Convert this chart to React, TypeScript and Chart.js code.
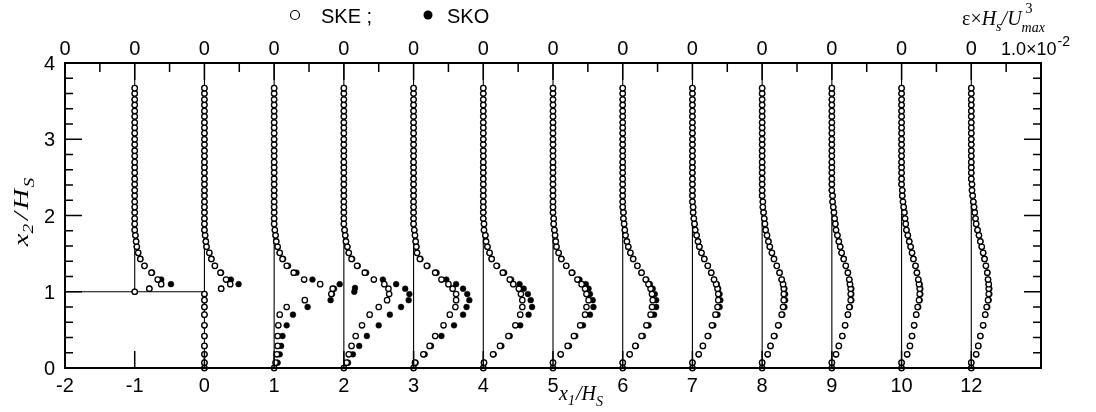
import { useEffect, useRef } from 'react';
import { Chart, registerables } from 'chart.js';

Chart.register(...registerables);

const W = 1096;
const H = 412;

// Stations x1/Hs (label) and the slot they occupy on the horizontal axis
const STATION_LABELS = ['-1', '0', '1', '2', '3', '4', '5', '6', '7', '8', '9', '10', '12'];
const STATION_SLOT = [-1, 0, 1, 2, 3, 4, 5, 6, 7, 8, 9, 10, 11];
const STEP_HEIGHT = 1;

// Axis ticks
const X_TICK_SLOTS = [-2, -1, 0, 1, 2, 3, 4, 5, 6, 7, 8, 9, 10, 11, 12];
const X_TICK_LABELS = ['-2', '-1', '0', '1', '2', '3', '4', '5', '6', '7', '8', '9', '10', '12', ''];
const TOP_TICK_LABELS = ['0', '0', '0', '0', '0', '0', '0', '0', '0', '0', '0', '0', '0', '0', '1.0×10'];
const TOP_MINOR_SLOTS = [-1.5, -0.5, 0.5, 1.5, 2.5, 3.5, 4.5, 5.5, 6.5, 7.5, 8.5, 9.5, 10.5, 11.5];
const Y_TICKS = [0, 1, 2, 3, 4];
const Y_TICK_LABELS = ['0', '1', '2', '3', '4'];
const Y_MINOR = [0.2, 0.4, 0.6, 0.8, 1.2, 1.4, 1.6, 1.8, 2.2, 2.4, 2.6, 2.8, 3.2, 3.4, 3.6, 3.8];

// Measurement heights x2/Hs
const Y_GRID = [
  0, 0.07, 0.18, 0.29, 0.42, 0.56, 0.70, 0.80, 0.89, 0.97, 1.04, 1.10, 1.16, 1.25, 1.34, 1.43, 1.51,
  1.59, 1.66, 1.74, 1.81, 1.89, 1.96, 2.04, 2.11, 2.18, 2.26, 2.33, 2.41, 2.48, 2.56, 2.63, 2.70,
  2.78, 2.85, 2.93, 3.00, 3.08, 3.15, 3.22, 3.30, 3.37, 3.45, 3.52, 3.60, 3.67,
];
// Station -1 lies on top of the step
const Y_STEP = [
  1.00, 1.04, 1.10, 1.16, 1.25, 1.34, 1.43, 1.51,
  1.59, 1.66, 1.74, 1.81, 1.89, 1.96, 2.04, 2.11, 2.18, 2.26, 2.33, 2.41, 2.48, 2.56, 2.63, 2.70,
  2.78, 2.85, 2.93, 3.00, 3.08, 3.15, 3.22, 3.30, 3.37, 3.45, 3.52, 3.60, 3.67,
];

// Dissipation eps*Hs/Umax^3, in units of 1.0e-2 (one station spacing)
const SKE_M1 = [0, 0.21, 0.38, 0.33, 0.24, 0.14, 0.08, 0.05,
  0.03, 0.02, 0.01, 0, 0, 0, 0, 0, 0, 0, 0, 0, 0, 0, 0, 0, 0, 0, 0, 0, 0, 0, 0, 0, 0, 0, 0, 0, 0];
const SKO_M1 = [0, 0.21, 0.52, 0.38, 0.25, 0.14, 0.08, 0.05,
  0.03, 0.02, 0.01, 0, 0, 0, 0, 0, 0, 0, 0, 0, 0, 0, 0, 0, 0, 0, 0, 0, 0, 0, 0, 0, 0, 0, 0, 0, 0];

const SKE_0 = [0, 0, 0, 0, 0, 0, 0, 0, 0, 0, 0.24, 0.37, 0.31, 0.23, 0.15, 0.10, 0.07,
  0.03, 0.02, 0.01, 0, 0, 0, 0, 0, 0, 0, 0, 0, 0, 0, 0, 0, 0, 0, 0, 0, 0, 0, 0, 0, 0, 0, 0, 0, 0];
const SKO_0 = [0, 0, 0, 0, 0, 0, 0, 0, 0, 0, 0.24, 0.49, 0.38, 0.24, 0.15, 0.10, 0.07,
  0.03, 0.02, 0.01, 0, 0, 0, 0, 0, 0, 0, 0, 0, 0, 0, 0, 0, 0, 0, 0, 0, 0, 0, 0, 0, 0, 0, 0, 0, 0];

const SKE_1 = [0, 0.02, 0.04, 0.05, 0.05, 0.06, 0.08, 0.18, 0.44, 0.82, 0.84, 0.66, 0.43, 0.28, 0.18, 0.12, 0.08,
  0.05, 0.03, 0.02, 0.01, 0, 0, 0, 0, 0, 0, 0, 0, 0, 0, 0, 0, 0, 0, 0, 0, 0, 0, 0, 0, 0, 0, 0, 0, 0];
const SKO_1 = [0, 0.05, 0.08, 0.10, 0.12, 0.18, 0.27, 0.48, 0.81, 0.83, 0.86, 0.94, 0.55, 0.32, 0.20, 0.13, 0.08,
  0.05, 0.03, 0.02, 0.01, 0, 0, 0, 0, 0, 0, 0, 0, 0, 0, 0, 0, 0, 0, 0, 0, 0, 0, 0, 0, 0, 0, 0, 0, 0];

const SKE_2 = [0, 0.04, 0.07, 0.11, 0.17, 0.26, 0.37, 0.50, 0.62, 0.65, 0.64, 0.58, 0.43, 0.30, 0.19, 0.11, 0.07,
  0.05, 0.03, 0.02, 0.01, 0, 0, 0, 0, 0, 0, 0, 0, 0, 0, 0, 0, 0, 0, 0, 0, 0, 0, 0, 0, 0, 0, 0, 0, 0];
const SKO_2 = [0, 0.06, 0.13, 0.22, 0.33, 0.50, 0.66, 0.82, 0.93, 0.94, 0.88, 0.75, 0.56, 0.32, 0.20, 0.12, 0.07,
  0.05, 0.03, 0.02, 0.01, 0, 0, 0, 0, 0, 0, 0, 0, 0, 0, 0, 0, 0, 0, 0, 0, 0, 0, 0, 0, 0, 0, 0, 0, 0];
// two isolated SKO points near the step corner height at station 2
const SKO_2_EXTRA_Y = [1.00, 1.05];
const SKO_2_EXTRA = [0.15, 0.16];

const SKE_3 = [0, 0.02, 0.14, 0.23, 0.31, 0.43, 0.52, 0.60, 0.61, 0.61, 0.56, 0.50, 0.40, 0.31, 0.19, 0.09, 0.05,
  0.04, 0.03, 0.02, 0.01, 0, 0, 0, 0, 0, 0, 0, 0, 0, 0, 0, 0, 0, 0, 0, 0, 0, 0, 0, 0, 0, 0, 0, 0, 0];
const SKO_3 = [0, 0.03, 0.16, 0.25, 0.40, 0.58, 0.71, 0.76, 0.80, 0.77, 0.71, 0.61, 0.47, 0.33, 0.20, 0.10, 0.05,
  0.04, 0.03, 0.02, 0.01, 0, 0, 0, 0, 0, 0, 0, 0, 0, 0, 0, 0, 0, 0, 0, 0, 0, 0, 0, 0, 0, 0, 0, 0, 0];

const SKE_4 = [0, 0.01, 0.14, 0.24, 0.36, 0.46, 0.53, 0.56, 0.56, 0.54, 0.51, 0.43, 0.38, 0.28, 0.19, 0.12, 0.09,
  0.06, 0.04, 0.03, 0.01, 0.01, 0, 0, 0, 0, 0, 0, 0, 0, 0, 0, 0, 0, 0, 0, 0, 0, 0, 0, 0, 0, 0, 0, 0, 0];
const SKO_4 = [0, 0.01, 0.15, 0.26, 0.38, 0.53, 0.65, 0.70, 0.68, 0.64, 0.58, 0.52, 0.40, 0.30, 0.20, 0.12, 0.09,
  0.06, 0.04, 0.03, 0.01, 0.01, 0, 0, 0, 0, 0, 0, 0, 0, 0, 0, 0, 0, 0, 0, 0, 0, 0, 0, 0, 0, 0, 0, 0, 0];

const SKE_5 = [0, 0, 0.11, 0.21, 0.30, 0.39, 0.46, 0.48, 0.51, 0.48, 0.46, 0.41, 0.35, 0.27, 0.19, 0.12, 0.08,
  0.05, 0.04, 0.03, 0.02, 0.01, 0.01, 0, 0, 0, 0, 0, 0, 0, 0, 0, 0, 0, 0, 0, 0, 0, 0, 0, 0, 0, 0, 0, 0, 0];
const SKO_5 = [0, 0, 0.11, 0.23, 0.32, 0.43, 0.53, 0.58, 0.57, 0.53, 0.51, 0.47, 0.38, 0.28, 0.19, 0.12, 0.08,
  0.05, 0.04, 0.03, 0.02, 0.01, 0.01, 0, 0, 0, 0, 0, 0, 0, 0, 0, 0, 0, 0, 0, 0, 0, 0, 0, 0, 0, 0, 0, 0, 0];

const SKE_6 = [0, 0, 0.10, 0.18, 0.27, 0.34, 0.40, 0.42, 0.43, 0.42, 0.40, 0.37, 0.33, 0.27, 0.21, 0.15, 0.11,
  0.08, 0.06, 0.04, 0.03, 0.02, 0.01, 0.01, 0, 0, 0, 0, 0, 0, 0, 0, 0, 0, 0, 0, 0, 0, 0, 0, 0, 0, 0, 0, 0, 0];
const SKO_6 = [0, 0, 0.10, 0.19, 0.29, 0.37, 0.45, 0.48, 0.48, 0.46, 0.43, 0.39, 0.34, 0.27, 0.21, 0.15, 0.11,
  0.08, 0.06, 0.04, 0.03, 0.02, 0.01, 0.01, 0, 0, 0, 0, 0, 0, 0, 0, 0, 0, 0, 0, 0, 0, 0, 0, 0, 0, 0, 0, 0, 0];

const SKE_7 = [0, 0, 0.09, 0.15, 0.22, 0.28, 0.33, 0.36, 0.37, 0.37, 0.36, 0.34, 0.31, 0.27, 0.22, 0.17, 0.13,
  0.10, 0.08, 0.06, 0.04, 0.03, 0.02, 0.01, 0.01, 0, 0, 0, 0, 0, 0, 0, 0, 0, 0, 0, 0, 0, 0, 0, 0, 0, 0, 0, 0, 0];
const SKO_7 = [0, 0, 0.09, 0.15, 0.23, 0.30, 0.36, 0.39, 0.40, 0.39, 0.37, 0.35, 0.31, 0.27, 0.22, 0.17, 0.13,
  0.10, 0.08, 0.06, 0.04, 0.03, 0.02, 0.01, 0.01, 0, 0, 0, 0, 0, 0, 0, 0, 0, 0, 0, 0, 0, 0, 0, 0, 0, 0, 0, 0, 0];

const SKE_8 = [0, 0, 0.08, 0.12, 0.17, 0.23, 0.28, 0.30, 0.31, 0.31, 0.31, 0.30, 0.28, 0.25, 0.21, 0.17, 0.14,
  0.11, 0.09, 0.07, 0.05, 0.04, 0.03, 0.02, 0.01, 0.01, 0, 0, 0, 0, 0, 0, 0, 0, 0, 0, 0, 0, 0, 0, 0, 0, 0, 0, 0, 0];
const SKO_8 = [0, 0, 0.08, 0.12, 0.18, 0.24, 0.29, 0.32, 0.33, 0.33, 0.32, 0.30, 0.28, 0.25, 0.21, 0.17, 0.14,
  0.11, 0.09, 0.07, 0.05, 0.04, 0.03, 0.02, 0.01, 0.01, 0, 0, 0, 0, 0, 0, 0, 0, 0, 0, 0, 0, 0, 0, 0, 0, 0, 0, 0, 0];

const SKE_9 = [0, 0, 0.06, 0.10, 0.15, 0.19, 0.23, 0.25, 0.27, 0.27, 0.27, 0.26, 0.25, 0.23, 0.20, 0.17, 0.14,
  0.12, 0.10, 0.08, 0.06, 0.05, 0.04, 0.03, 0.02, 0.01, 0.01, 0, 0, 0, 0, 0, 0, 0, 0, 0, 0, 0, 0, 0, 0, 0, 0, 0, 0, 0];
const SKO_9 = [0, 0, 0.06, 0.10, 0.15, 0.19, 0.23, 0.26, 0.28, 0.28, 0.28, 0.26, 0.25, 0.23, 0.20, 0.17, 0.14,
  0.12, 0.10, 0.08, 0.06, 0.05, 0.04, 0.03, 0.02, 0.01, 0.01, 0, 0, 0, 0, 0, 0, 0, 0, 0, 0, 0, 0, 0, 0, 0, 0, 0, 0, 0];

const SKE_10 = [0, 0, 0.08, 0.12, 0.15, 0.18, 0.21, 0.23, 0.25, 0.26, 0.26, 0.25, 0.24, 0.22, 0.20, 0.17, 0.15,
  0.13, 0.11, 0.09, 0.07, 0.06, 0.05, 0.04, 0.03, 0.02, 0.01, 0.01, 0, 0, 0, 0, 0, 0, 0, 0, 0, 0, 0, 0, 0, 0, 0, 0, 0, 0];
const SKO_10 = [0, 0, 0.08, 0.12, 0.15, 0.18, 0.21, 0.24, 0.26, 0.27, 0.27, 0.26, 0.24, 0.22, 0.20, 0.17, 0.15,
  0.13, 0.11, 0.09, 0.07, 0.06, 0.05, 0.04, 0.03, 0.02, 0.01, 0.01, 0, 0, 0, 0, 0, 0, 0, 0, 0, 0, 0, 0, 0, 0, 0, 0, 0, 0];

const SKE_12 = [0, 0, 0.07, 0.10, 0.13, 0.17, 0.20, 0.22, 0.24, 0.25, 0.25, 0.25, 0.24, 0.23, 0.21, 0.19, 0.17,
  0.15, 0.13, 0.11, 0.09, 0.07, 0.06, 0.05, 0.04, 0.03, 0.02, 0.01, 0.01, 0, 0, 0, 0, 0, 0, 0, 0, 0, 0, 0, 0, 0, 0, 0, 0, 0];
const SKO_12 = [0, 0, 0.07, 0.10, 0.13, 0.17, 0.20, 0.23, 0.25, 0.26, 0.26, 0.25, 0.24, 0.23, 0.21, 0.19, 0.17,
  0.15, 0.13, 0.11, 0.09, 0.07, 0.06, 0.05, 0.04, 0.03, 0.02, 0.01, 0.01, 0, 0, 0, 0, 0, 0, 0, 0, 0, 0, 0, 0, 0, 0, 0, 0, 0];

const SKE_ALL = [SKE_M1, SKE_0, SKE_1, SKE_2, SKE_3, SKE_4, SKE_5, SKE_6, SKE_7, SKE_8, SKE_9, SKE_10, SKE_12];
const SKO_ALL = [SKO_M1, SKO_0, SKO_1, SKO_2, SKO_3, SKO_4, SKO_5, SKO_6, SKO_7, SKO_8, SKO_9, SKO_10, SKO_12];

const SANS = '"Liberation Sans", Arial, Helvetica, sans-serif';
const SERIF = '"Liberation Serif", "Times New Roman", Times, serif';

type Part = { t: string; font: string; dy?: number; dx?: number; noAdvance?: boolean };

function drawParts(ctx: CanvasRenderingContext2D, parts: Part[], x: number, y: number) {
  let cx = x;
  for (const p of parts) {
    ctx.font = p.font;
    ctx.fillText(p.t, cx + (p.dx || 0), y + (p.dy || 0));
    if (!p.noAdvance) cx += ctx.measureText(p.t).width + (p.dx || 0);
  }
  return cx;
}
function partsWidth(ctx: CanvasRenderingContext2D, parts: Part[]) {
  let w = 0;
  for (const p of parts) {
    ctx.font = p.font;
    if (!p.noAdvance) w += ctx.measureText(p.t).width + (p.dx || 0);
  }
  return w;
}

const decor = {
  id: 'decor',
  afterDraw(chart: any) {
    const { ctx, chartArea: a } = chart;
    const xs = chart.scales.x;
    const ys = chart.scales.y;
    ctx.save();
    ctx.strokeStyle = '#000';
    ctx.fillStyle = '#000';

    // frame
    ctx.lineWidth = 2;
    ctx.strokeRect(a.left, a.top, a.right - a.left, a.bottom - a.top);

    // ticks (inward)
    ctx.lineWidth = 1.5;
    ctx.beginPath();
    for (const v of Y_TICKS) {
      const py = ys.getPixelForValue(v);
      ctx.moveTo(a.left, py); ctx.lineTo(a.left + 17, py);
      ctx.moveTo(a.right, py); ctx.lineTo(a.right - 17, py);
    }
    for (const v of Y_MINOR) {
      const py = ys.getPixelForValue(v);
      ctx.moveTo(a.left, py); ctx.lineTo(a.left + 8, py);
      ctx.moveTo(a.right, py); ctx.lineTo(a.right - 8, py);
    }
    for (const v of X_TICK_SLOTS) {
      const px = xs.getPixelForValue(v);
      ctx.moveTo(px, a.bottom); ctx.lineTo(px, a.bottom - 17);
      ctx.moveTo(px, a.top); ctx.lineTo(px, a.top + 17);
    }
    for (const v of TOP_MINOR_SLOTS) {
      const px = xs.getPixelForValue(v);
      ctx.moveTo(px, a.top); ctx.lineTo(px, a.top + 9);
    }
    ctx.stroke();

    // bottom tick labels
    ctx.font = `20px ${SANS}`;
    ctx.textAlign = 'center';
    ctx.textBaseline = 'alphabetic';
    X_TICK_SLOTS.forEach((v, i) => {
      if (X_TICK_LABELS[i]) ctx.fillText(X_TICK_LABELS[i], xs.getPixelForValue(v), a.bottom + 24);
    });
    // top tick labels
    X_TICK_SLOTS.forEach((v, i) => {
      const lab = TOP_TICK_LABELS[i];
      const px = xs.getPixelForValue(v);
      if (lab === '0') {
        ctx.font = `20px ${SANS}`;
        ctx.textAlign = 'center';
        ctx.fillText(lab, px, a.top - 8);
      } else {
        ctx.textAlign = 'left';
        ctx.font = `18px ${SANS}`;
        const w = ctx.measureText(lab).width;
        const x0 = px - 40;
        ctx.fillText(lab, x0, a.top - 8);
        ctx.font = `14px ${SANS}`;
        ctx.fillText('-2', x0 + w + 1, a.top - 17);
      }
    });
    // left tick labels
    ctx.font = `20px ${SANS}`;
    ctx.textAlign = 'right';
    Y_TICKS.forEach((v, i) => {
      ctx.fillText(Y_TICK_LABELS[i], a.left - 10, ys.getPixelForValue(v) + 7);
    });

    // axis titles
    ctx.textAlign = 'left';
    const it = `italic 20px ${SERIF}`;
    const its = `italic 14px ${SERIF}`;
    // x1/Hs next to the "5"
    drawParts(ctx, [
      { t: 'x', font: it },
      { t: '1', font: its, dy: 5 },
      { t: '/H', font: it, dx: 1 },
      { t: 'S', font: its, dy: 6 },
    ], xs.getPixelForValue(5) + 6, a.bottom + 32);

    // x2/Hs rotated
    ctx.save();
    ctx.translate(28, 212);
    ctx.rotate(-Math.PI / 2);
    const yParts: Part[] = [
      { t: 'x', font: `italic 22px ${SERIF}` },
      { t: '2', font: `italic 15px ${SERIF}`, dy: 5 },
      { t: '/', font: `italic 22px ${SERIF}`, dx: 3 },
      { t: 'H', font: `italic 22px ${SERIF}`, dx: 2 },
      { t: 'S', font: `italic 15px ${SERIF}`, dy: 6, dx: 1 },
    ];
    ctx.scale(1.3, 1);
    const yw = partsWidth(ctx, yParts);
    drawParts(ctx, yParts, -yw / 2, 0);
    ctx.restore();

    // top-right quantity label
    const tx = 962;
    const endU = drawParts(ctx, [
      { t: 'ε×', font: `20px ${SERIF}` },
      { t: 'H', font: it },
      { t: 's', font: its, dy: 6 },
      { t: '/', font: it },
      { t: 'U', font: it },
    ], tx, 25);
    ctx.font = `14px ${SERIF}`;
    ctx.fillText('3', endU + 4, 13);
    ctx.font = its;
    ctx.fillText('max', endU, 32);

    // legend
    ctx.lineWidth = 1.2;
    ctx.beginPath();
    ctx.arc(295, 15, 4.5, 0, Math.PI * 2);
    ctx.fillStyle = '#fff';
    ctx.fill();
    ctx.stroke();
    ctx.fillStyle = '#000';
    ctx.beginPath();
    ctx.arc(428, 15, 4.5, 0, Math.PI * 2);
    ctx.fill();
    ctx.font = `20px ${SANS}`;
    ctx.textAlign = 'left';
    ctx.fillText('SKE ;', 321, 23);
    ctx.fillText('SKO', 447, 23);

    ctx.restore();
  },
};

export default function App() {
  const ref = useRef<HTMLCanvasElement | null>(null);
  useEffect(() => {
    if (!ref.current) return;
    const yFor = (i: number) => (i === 0 ? Y_STEP : Y_GRID);
    const toPts = (series: number[][]) =>
      series.flatMap((eps, i) => yFor(i).map((y, k) => ({ x: STATION_SLOT[i] + eps[k], y })));

    const skoPts = toPts(SKO_ALL).concat(
      SKO_2_EXTRA_Y.map((y, k) => ({ x: STATION_SLOT[3] + SKO_2_EXTRA[k], y }))
    );

    const baseLines = STATION_SLOT.map((s, i) => ({
      label: 'base ' + STATION_LABELS[i],
      data: [
        { x: s, y: i === 0 ? STEP_HEIGHT : 0 },
        { x: s, y: 4 },
      ],
      showLine: true,
      borderColor: '#000',
      borderWidth: 1.1,
      pointRadius: 0,
      order: 3,
      clip: false as any,
    }));

    const chart = new Chart(ref.current, {
      type: 'scatter',
      data: {
        datasets: [
          {
            label: 'SKE',
            data: toPts(SKE_ALL),
            pointRadius: 2.7,
            pointBorderWidth: 1.3,
            pointBackgroundColor: '#fff',
            pointBorderColor: '#000',
            order: 0,
            clip: false as any,
          },
          {
            label: 'SKO',
            data: skoPts,
            pointRadius: 2.9,
            pointBorderWidth: 0.5,
            pointBackgroundColor: '#000',
            pointBorderColor: '#000',
            order: 1,
            clip: false as any,
          },
          {
            label: 'step',
            data: [
              { x: -2, y: STEP_HEIGHT },
              { x: 0, y: STEP_HEIGHT },
            ],
            showLine: true,
            borderColor: '#000',
            borderWidth: 1.1,
            pointRadius: 0,
            order: 3,
          },
          ...baseLines,
        ] as any,
      },
      options: {
        responsive: false,
        animation: false,
        events: [],
        layout: { padding: { left: 65, right: 55, top: 63, bottom: 44 } },
        scales: {
          x: { type: 'linear', min: -2, max: 12, display: false },
          y: { type: 'linear', min: 0, max: 4, display: false },
        },
        plugins: { legend: { display: false }, tooltip: { enabled: false } },
      },
      plugins: [decor],
    });
    return () => chart.destroy();
  }, []);

  return (
    <div style={{ position: 'fixed', left: 0, top: 0, width: W, height: H, background: '#fff' }}>
      <canvas ref={ref} width={W} height={H} style={{ display: 'block' }} />
    </div>
  );
}
